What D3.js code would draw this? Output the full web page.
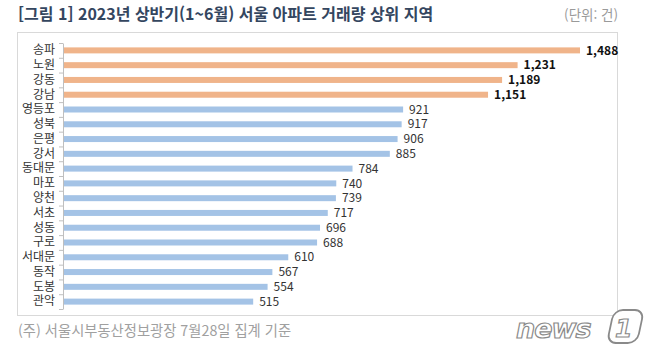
<!DOCTYPE html>
<html lang="ko">
<head>
    <meta charset="UTF-8">
    <title>2023년 상반기 서울 아파트 거래량 상위 지역</title>
    <script src="https://cdn.jsdelivr.net/npm/d3@7"></script>
    <style>
        body { margin: 0; background: #fff; }
        text { font-family: "Noto Sans CJK KR", "Noto Sans", sans-serif; }
    </style>
</head>
<body>
<script>
    // 데이터
    const regions = ['송파', '노원', '강동', '강남', '영등포', '성북', '은평', '강서', '동대문', '마포',
        '양천', '서초', '성동', '구로', '서대문', '동작', '도봉', '관악']
    const counts = [1488, 1231, 1189, 1151, 921, 917, 906, 885, 784, 740, 739, 717, 696, 688, 610, 567, 554, 515]
    const topN = 4 // 상위 4곳은 주황색

    const [width, height] = [647, 351]
    const svg = d3.select('body').append('svg')
        .attr('width', width)
        .attr('height', height)

    // 제목
    svg.append('text')
        .attr('x', 18).attr('y', 20)
        .attr('font-size', 16).attr('font-weight', 700)
        .attr('fill', '#34465f')
        .text('[그림 1] 2023년 상반기(1~6월) 서울 아파트 거래량 상위 지역')
    svg.append('text')
        .attr('x', 618).attr('y', 20)
        .attr('text-anchor', 'end')
        .attr('font-size', 13.5).attr('fill', '#9a9a9a')
        .text('(단위: 건)')

    // 테두리
    svg.append('rect')
        .attr('x', 17.5).attr('y', 32.5)
        .attr('width', 600).attr('height', 283)
        .attr('fill', 'none').attr('stroke', '#d9d9d9')

    const margin = { left: 63, top: 43, bottom: 309 }
    const y = d3.scaleBand().domain(regions).range([margin.top, margin.bottom])
    const x = d3.scaleLinear().domain([0, 1400]).range([margin.left, 580]).clamp(true)

    const yAxis = d3.axisLeft(y).tickSize(0).tickPadding(8)
    const gy = svg.append('g').attr('transform', `translate(${margin.left},0)`).call(yAxis)
    gy.select('.domain').attr('stroke', '#bfbfbf')
    gy.selectAll('.tick text')
        .attr('font-size', 12).attr('fill', '#333')
        .style('font-family', '"Noto Sans CJK KR", sans-serif')
    // 구분 눈금
    gy.selectAll('line.sep')
        .data(d3.range(regions.length + 1))
        .join('line')
        .attr('class', 'sep')
        .attr('x1', -4).attr('x2', 0)
        .attr('y1', i => margin.top + i * y.step() + 0.5)
        .attr('y2', i => margin.top + i * y.step() + 0.5)
        .attr('stroke', '#bfbfbf')

    const barH = 6
    svg.append('g').selectAll('rect')
        .data(counts)
        .join('rect')
        .attr('x', margin.left + 1)
        .attr('y', (d, i) => y(regions[i]) + y.bandwidth() / 2 - barH / 2)
        .attr('width', d => x(d) - margin.left - 1)
        .attr('height', barH)
        .attr('fill', (d, i) => i < topN ? '#f0b48a' : '#a4c3e6')

    svg.append('g').selectAll('text')
        .data(counts)
        .join('text')
        .attr('x', d => x(d) + 6)
        .attr('y', (d, i) => y(regions[i]) + y.bandwidth() / 2)
        .attr('dy', '0.35em')
        .attr('font-size', 12)
        .attr('font-weight', (d, i) => i < topN ? 700 : 400)
        .attr('fill', (d, i) => i < topN ? '#111' : '#333')
        .text(d3.format(','))

    // 출처
    svg.append('text')
        .attr('x', 18).attr('y', 336)
        .attr('font-size', 14.3).attr('fill', '#a0a0a0')
        .text('(주) 서울시부동산정보광장 7월28일 집계 기준')

    // 로고
    const logo = svg.append('g').attr('transform', 'translate(516,338)')
    logo.append('text')
        .attr('font-size', 27).attr('font-style', 'italic').attr('font-weight', 700)
        .attr('fill', '#fff').attr('stroke', '#8a8a8a').attr('stroke-width', 1.2)
        .style('font-family', '"DejaVu Sans", sans-serif')
        .attr('letter-spacing', -1)
        .text('news')
    logo.append('rect')
        .attr('x', 92).attr('y', -28).attr('width', 30).attr('height', 33)
        .attr('rx', 9).attr('transform', 'skewX(-12)')
        .attr('fill', '#fff').attr('stroke', '#8a8a8a').attr('stroke-width', 1.8)
    logo.append('text')
        .attr('x', 99).attr('y', -1)
        .attr('font-size', 25).attr('font-style', 'italic').attr('font-weight', 700)
        .attr('fill', '#fff').attr('stroke', '#8a8a8a').attr('stroke-width', 1.2)
        .style('font-family', '"DejaVu Sans", sans-serif')
        .text('1')
</script>
</body>
</html>
